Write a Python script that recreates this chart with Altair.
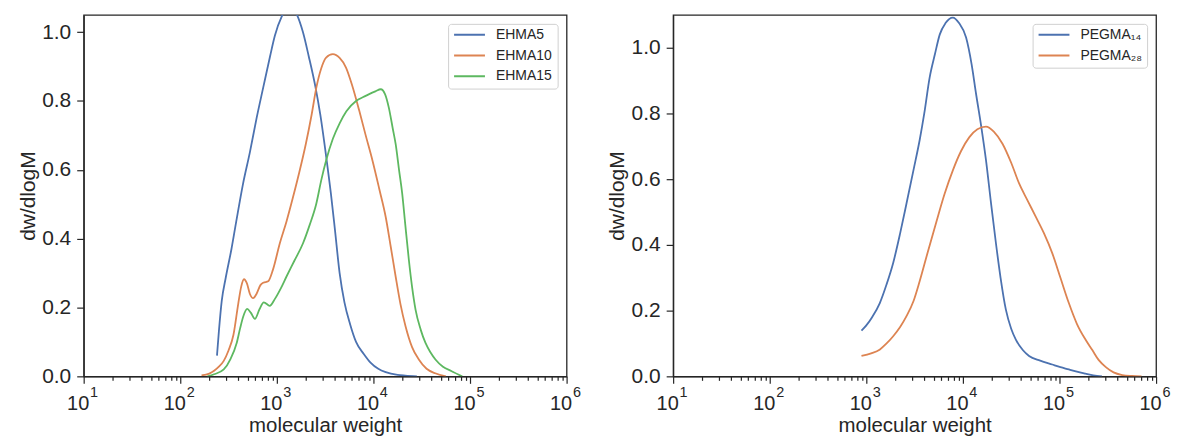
import altair as alt
import pandas as pd

# ---------------- data ----------------
# Left panel: EHMA series (molecular weight, dw/dlogM)
ehma5_m = [240, 251, 269, 295, 339, 380, 447, 525, 617, 724, 851, 955, 1122, 1349,
           1585, 1862, 2138, 2512, 2818, 3236, 3631, 3981, 4467, 5012, 5754, 6607,
           7943, 9333, 11220, 13400, 17780, 21380, 28180]
ehma5_v = [0.06, 0.13, 0.22, 0.285, 0.37, 0.45, 0.56, 0.65, 0.75, 0.84, 0.93, 0.99,
           1.045, 1.075, 1.055, 1.0, 0.93, 0.84, 0.76, 0.64, 0.53, 0.43, 0.30, 0.215,
           0.15, 0.10, 0.065, 0.04, 0.022, 0.012, 0.004, 0.002, 0.0]

ehma10_m = [166, 200, 224, 251, 282, 316, 355, 398, 427, 457, 490, 525, 569, 617, 676,
            724, 813, 912, 1072, 1259, 1469, 1698, 1995, 2291, 2570, 2884, 3236, 3802,
            4467, 5200, 6026, 7129, 8318, 9772, 11480, 13400, 15140, 16980, 19050,
            21530, 25120, 29510, 35480, 43650, 56230]
ehma10_v = [0.003, 0.008, 0.016, 0.028, 0.045, 0.075, 0.12, 0.21, 0.26, 0.282, 0.27,
            0.24, 0.227, 0.24, 0.265, 0.272, 0.276, 0.31, 0.386, 0.45, 0.52, 0.59,
            0.675, 0.76, 0.84, 0.895, 0.926, 0.936, 0.925, 0.897, 0.845, 0.772, 0.70,
            0.627, 0.545, 0.463, 0.375, 0.29, 0.21, 0.145, 0.085, 0.049, 0.022,
            0.009, 0.0]

ehma15_m = [191, 224, 282, 331, 384, 417, 449, 493, 537, 593, 661, 733, 845, 955,
            1096, 1259, 1514, 1862, 2188, 2553, 2884, 3236, 3802, 4467, 5248, 6607,
            7943, 9036, 10470, 11910, 13180, 14450, 15850, 16980, 18410, 19860, 21380,
            23280, 25120, 27290, 30900, 34590, 38900, 43850, 52480, 64570, 83180]
ehma15_v = [0.0, 0.006, 0.02, 0.05, 0.097, 0.14, 0.174, 0.196, 0.185, 0.167, 0.195,
            0.215, 0.205, 0.225, 0.255, 0.29, 0.335, 0.386, 0.44, 0.50, 0.57, 0.627,
            0.69, 0.735, 0.77, 0.80, 0.812, 0.82, 0.828, 0.834, 0.82, 0.78, 0.72,
            0.675, 0.60, 0.531, 0.44, 0.338, 0.26, 0.194, 0.135, 0.097, 0.07, 0.049,
            0.028, 0.015, 0.0]

# Right panel: PEGMA series
peg14_m = [891, 1000, 1148, 1380, 1622, 1897, 2239, 2606, 3090, 3573, 3981, 4529,
           5129, 5754, 6607, 7870, 9120, 10790, 12300, 13680, 15490, 17340, 19500,
           21980, 24550, 27860, 31620, 35320, 41690, 48420, 63100, 84140, 102300,
           125000, 151400, 185800, 223900, 275400]
peg14_v = [0.139, 0.155, 0.18, 0.223, 0.28, 0.345, 0.435, 0.526, 0.63, 0.72, 0.80,
           0.91, 0.98, 1.04, 1.075, 1.092, 1.075, 1.031, 0.95, 0.86, 0.76, 0.658,
           0.53, 0.405, 0.30, 0.203, 0.145, 0.112, 0.08, 0.062, 0.048, 0.036, 0.028,
           0.021, 0.014, 0.008, 0.003, 0.0]

peg28_m = [891, 1122, 1384, 1622, 1897, 2239, 2606, 3090, 3573, 4345, 5309, 6457,
           7870, 9550, 11670, 14130, 17340, 20890, 25700, 31620, 38190, 46770, 56750,
           69180, 84140, 102300, 125000, 151400, 185800, 218800, 254100, 302000,
           363100, 446700, 562300, 707900]
peg28_v = [0.062, 0.07, 0.082, 0.10, 0.122, 0.15, 0.183, 0.23, 0.29, 0.38, 0.47,
           0.555, 0.627, 0.685, 0.728, 0.752, 0.76, 0.745, 0.708, 0.65, 0.587, 0.535,
           0.486, 0.435, 0.375, 0.30, 0.223, 0.16, 0.112, 0.08, 0.05, 0.028, 0.012,
           0.004, 0.001, 0.0]

left_names = ["EHMA5", "EHMA10", "EHMA15"]
right_names = ["PEGMA\u2081\u2084", "PEGMA\u2082\u2088"]
left_colors = ["#4C72B0", "#DD8452", "#5DB860"]
right_colors = ["#4C72B0", "#DD8452"]

# axis ticks and tick labels
x_tick_values = [10, 20, 30, 40, 50, 60, 70, 80, 90,
                 100, 200, 300, 400, 500, 600, 700, 800, 900,
                 1000, 2000, 3000, 4000, 5000, 6000, 7000, 8000, 9000,
                 10000, 20000, 30000, 40000, 50000, 60000, 70000, 80000, 90000,
                 100000, 200000, 300000, 400000, 500000, 600000, 700000, 800000, 900000,
                 1000000]
decade_values = [10, 100, 1000, 10000, 100000, 1000000]
decade_bases = ["10", "10", "10", "10", "10", "10"]
decade_exponents = ["1", "2", "3", "4", "5", "6"]
y_tick_values = [0.0, 0.2, 0.4, 0.6, 0.8, 1.0]


def build_df(names, ms, vs):
    rows = []
    for n, m, v in zip(names, ms, vs):
        for k, (a, b) in enumerate(zip(m, v)):
            rows.append({"series": n, "M": a, "v": b, "order": k})
    return pd.DataFrame(rows)


left_df = build_df(left_names, [ehma5_m, ehma10_m, ehma15_m], [ehma5_v, ehma10_v, ehma15_v])
right_df = build_df(right_names, [peg14_m, peg28_m], [peg14_v, peg28_v])
tick_label_df = pd.DataFrame({"M": decade_values, "base": decade_bases, "exp": decade_exponents})

decade_test = "abs(log(datum.value)/LN10 - round(log(datum.value)/LN10)) < 0.001"

INK = "#262626"


def panel(df, names, colors, ymax):
    x_axis = alt.Axis(
        title="molecular weight",
        values=x_tick_values,
        labelExpr="''",
        labelPadding=0,
        labelOverlap=False,
        tickSize={"condition": {"test": decade_test, "value": 7}, "value": 4},
        titleY=55,
        titleBaseline="alphabetic",
        titleFontSize=20.5,
        grid=False,
    )
    y_axis = alt.Axis(
        title="dw/dlogM",
        values=y_tick_values,
        format=".1f",
        tickSize=7,
        labelPadding=6,
        labelFontSize=21,
        titlePadding=3.5,
        grid=False,
    )
    xscale = alt.Scale(type="log", domain=[10, 1000000], nice=False)
    yscale = alt.Scale(domain=[0, ymax], nice=False, zero=True)
    xenc = alt.X("M:Q", scale=xscale, axis=x_axis, title="molecular weight")
    lines = (
        alt.Chart(df)
        .mark_line(strokeWidth=1.8, clip=True, interpolate="monotone")
        .encode(
            x=xenc,
            y=alt.Y("v:Q", scale=yscale, axis=y_axis, title="dw/dlogM"),
            color=alt.Color(
                "series:N",
                scale=alt.Scale(domain=names, range=colors),
                sort=names,
                legend=alt.Legend(title=None, orient="top-right"),
            ),
            order="order:Q",
        )
    )
    bases = (
        alt.Chart(tick_label_df)
        .mark_text(dx=-5.5, dy=34, fontSize=20, baseline="alphabetic", align="center", color=INK)
        .encode(x=xenc, y=alt.YDatum(0), text="base:N")
    )
    exps = (
        alt.Chart(tick_label_df)
        .mark_text(dx=10.5, dy=20.5, fontSize=14.5, baseline="alphabetic", align="center", color=INK)
        .encode(x=xenc, y=alt.YDatum(0), text="exp:N")
    )
    return alt.layer(lines, bases, exps).properties(width=485, height=363)


left = panel(left_df, left_names, left_colors, 1.05)
right = panel(right_df, right_names, right_colors, 1.1)

chart = (
    alt.hconcat(left, right, spacing=23)
    .resolve_scale(color="independent")
    .configure(font="Liberation Sans", padding={"left": 8, "top": 5, "right": 0, "bottom": 0})
    .configure_view(stroke=INK, strokeWidth=1.3)
    .configure_axis(
        domainColor=INK,
        tickColor=INK,
        labelColor=INK,
        titleColor=INK,
        domainWidth=1.3,
        tickWidth=1.2,
        labelFontSize=20,
        titleFontSize=21,
        titleFontWeight="normal",
    )
    .configure_legend(
        offset=9,
        padding=5,
        strokeColor="#d0d0d0",
        fillColor="white",
        cornerRadius=3,
        symbolType="stroke",
        symbolSize=961,
        symbolStrokeWidth=2,
        labelFontSize=14,
        labelColor=INK,
        labelOffset=10,
        clipHeight=12,
        rowPadding=6.8,
    )
)

chart.save("out.html", embed_options={"renderer": "svg", "actions": False})
